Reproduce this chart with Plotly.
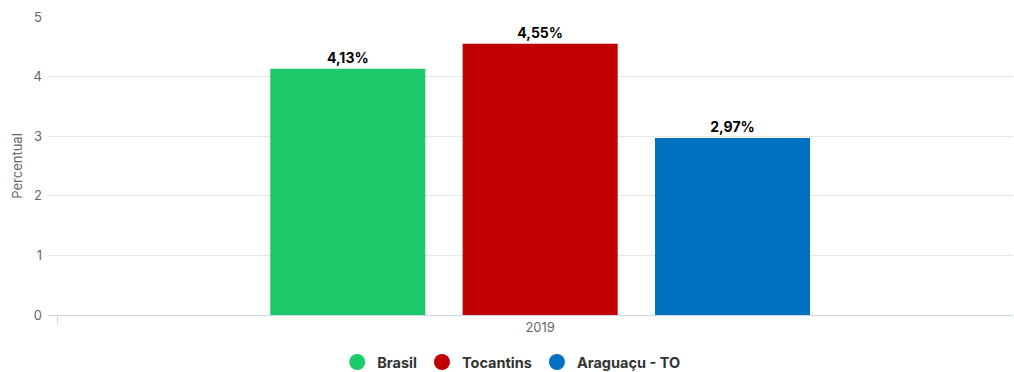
import plotly.graph_objects as go

# Dados
categorias = ["2019"]
series = ["Brasil", "Tocantins", "Araguaçu - TO"]
valores = [4.13, 4.55, 2.97]
cores = ["#1cc96b", "#c00000", "#0070c0"]

FONTE = "Inter, Lato, sans-serif"

fig = go.Figure()

for nome, valor, cor in zip(series, valores, cores):
    rotulo = f"{valor:.2f}".replace(".", ",") + "%"
    fig.add_trace(go.Bar(
        x=[0], y=[valor], name=nome,
        marker=dict(color=cor, line=dict(width=0)),
        text=[rotulo], textposition="outside",
        textfont=dict(family=FONTE, size=14, color="#000000", weight="bold"),
        cliponaxis=False, showlegend=False,
        hoverinfo="skip",
    ))
    # marcador circular da legenda
    fig.add_trace(go.Scatter(
        x=[None], y=[None], mode="markers", name=nome,
        marker=dict(symbol="circle", size=16, color=cor),
        showlegend=True,
    ))

fig.update_layout(
    width=1014, height=372,
    margin=dict(l=48, r=1, t=17, b=57, autoexpand=False),
    paper_bgcolor="white", plot_bgcolor="white",
    barmode="group", bargap=0.402, bargroupgap=0.194,
    font=dict(family=FONTE, color="#666666"),
    legend=dict(
        orientation="h", x=0.48, xanchor="center", y=-0.158, yanchor="middle",
        font=dict(family=FONTE, size=14.5, color="#333333", weight="bold"),
        itemwidth=30, tracegroupgap=0,
    ),
    xaxis=dict(
        range=[-0.51, 0.49],
        tickvals=[0], ticktext=categorias,
        tickfont=dict(size=13, color="#666666"),
        showgrid=False, zeroline=False,
        showline=True, linecolor="#ccd6eb", linewidth=1,
        ticks="",
        minor=dict(tickvals=[-0.5], ticks="outside", ticklen=8,
                   tickcolor="#ccd6eb", tickwidth=1, showgrid=False),
    ),
    yaxis=dict(
        range=[0, 5], dtick=1,
        tickfont=dict(size=13, color="#666666"),
        showgrid=True, gridcolor="#e6e6e6", gridwidth=1,
        zeroline=False, showline=False,
        ticklabelstandoff=5,
        title=dict(text="Percentual", font=dict(size=13, color="#666666"), standoff=8),
    ),
)

fig.write_html("out.html")
